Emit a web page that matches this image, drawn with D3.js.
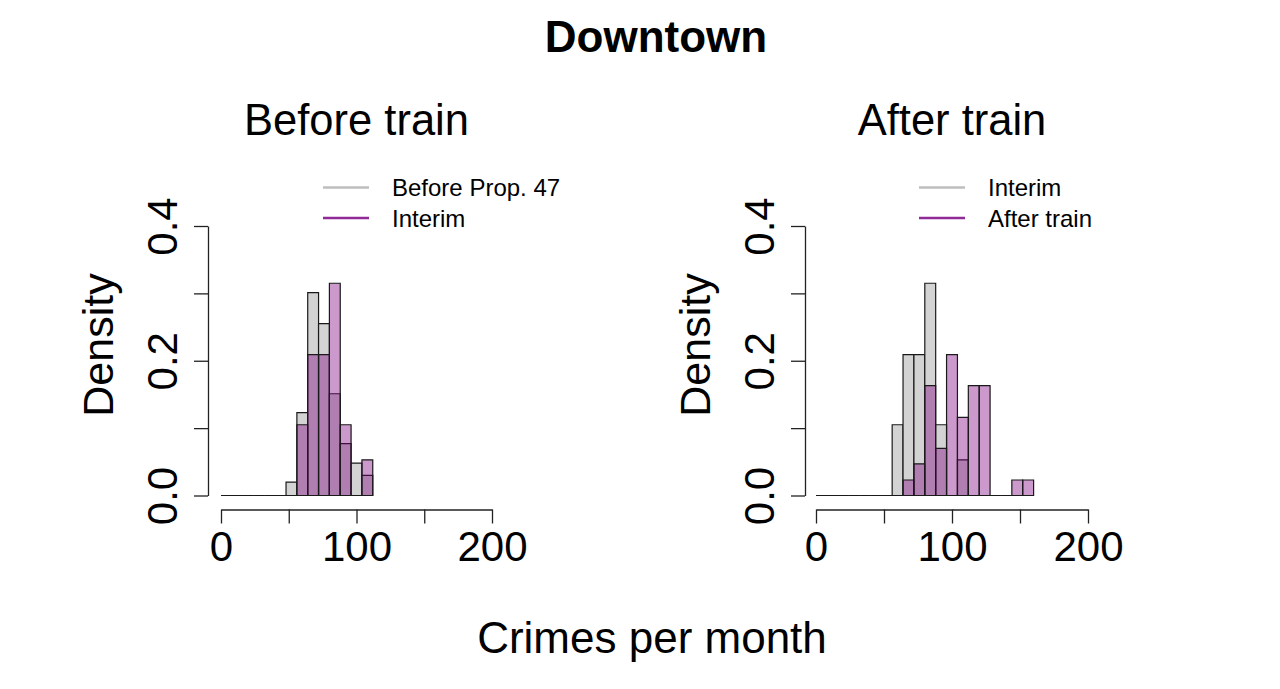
<!DOCTYPE html>
<html>
<head>
<meta charset="utf-8">
<script src="https://cdn.jsdelivr.net/npm/d3@7"></script>
<style>
  body { margin: 0; background: #fff; }
  text { font-family: "Liberation Sans", Arial, sans-serif; fill: #000; }
</style>
</head>
<body>
<script>
// Data (density per 8-unit bin, bins start at 0):
const binWidth = 8;
const beforeProp47 = [0, 0, 0, 0, 0, 0, 0.020, 0.123, 0.301, 0.255, 0.151, 0.077, 0.048, 0.030];
const interim = [0, 0, 0, 0, 0, 0, 0, 0.105, 0.209, 0.209, 0.315, 0.105, 0, 0.053];
const afterTrain = [0, 0, 0, 0, 0, 0, 0, 0, 0.023, 0.047, 0.163, 0.070, 0.209, 0.116, 0.163, 0.163, 0, 0, 0.023, 0.023];
const xTicks = [0, 50, 100, 150, 200];
const xTickLabels = [0, 100, 200];
const yTicks = [0, 0.1, 0.2, 0.3, 0.4];
const yTickLabels = [0, 0.2, 0.4];

const panels = [
  { title: "Before train", left: 221, right: 492, axisX: 208,
    series: [{ name: "Before Prop. 47", values: beforeProp47 }, { name: "Interim", values: interim }],
    legendX: 323 },
  { title: "After train", left: 816, right: 1088, axisX: 805,
    series: [{ name: "Interim", values: interim }, { name: "After train", values: afterTrain }],
    legendX: 919 }
];

const fills = ["#d3d3d3", "rgba(128,0,128,0.4)"];
const legendColors = ["#bebebe", "#902a96"];

const width = 1280;
const height = 689;

const svg = d3.select("body")
  .append("svg")
  .attr("width", width)
  .attr("height", height);

// Main title:
svg.append("text")
  .attr("x", 656)
  .attr("y", 52)
  .attr("text-anchor", "middle")
  .style("font-size", "44px")
  .style("font-weight", "bold")
  .text("Downtown");

// Shared x label:
svg.append("text")
  .attr("x", 652)
  .attr("y", 653)
  .attr("text-anchor", "middle")
  .style("font-size", "44px")
  .text("Crimes per month");

const yScale = d3.scaleLinear().domain([0, 0.4]).range([495.5, 226]);

panels.forEach((p) => {
  const xScale = d3.scaleLinear().domain([0, 200]).range([p.left, p.right]);
  const g = svg.append("g");

  // Panel title:
  g.append("text")
    .attr("x", (p.left + p.right) / 2)
    .attr("y", 135)
    .attr("text-anchor", "middle")
    .style("font-size", "43.5px")
    .text(p.title);

  // Bars (gray first, then translucent purple on top):
  p.series.forEach((s, si) => {
    g.append("g")
      .selectAll("path")
      .data(s.values)
      .enter()
      .append("path")
      .attr("d", (d, i) => {
        const x0 = xScale(i * binWidth);
        const x1 = xScale((i + 1) * binWidth);
        const y0 = yScale(0);
        const y1 = yScale(d);
        return `M${x0},${y0}V${y1}H${x1}V${y0}Z`;
      })
      .attr("fill", fills[si])
      .attr("stroke", "#1a1a1a")
      .attr("stroke-width", 1.2);
  });

  // x-axis:
  const xAxis = d3.axisBottom(xScale)
    .tickValues(xTicks)
    .tickSize(14)
    .tickSizeOuter(0)
    .tickFormat((d) => (xTickLabels.includes(d) ? d : ""));
  const xg = g.append("g")
    .attr("transform", `translate(0, 509.5)`)
    .call(xAxis);
  xg.select(".domain").attr("stroke", "#222").attr("stroke-width", 1.3);
  xg.selectAll(".tick line").attr("stroke", "#222").attr("stroke-width", 1.3);
  xg.selectAll(".tick text")
    .attr("y", 51.5)
    .attr("dy", null)
    .attr("fill", "#000")
    .style("font-size", "42px")
    .style("font-family", "Liberation Sans, Arial, sans-serif");

  // y-axis:
  const yAxis = d3.axisLeft(yScale)
    .tickValues(yTicks)
    .tickSize(14)
    .tickSizeOuter(0)
    .tickFormat((d) => (yTickLabels.includes(d) ? d3.format(".1f")(d) : ""));
  const yg = g.append("g")
    .attr("transform", `translate(${p.axisX}, 0)`)
    .call(yAxis);
  yg.select(".domain").attr("stroke", "#222").attr("stroke-width", 1.3);
  yg.selectAll(".tick line").attr("stroke", "#222").attr("stroke-width", 1.3);
  yg.selectAll(".tick text")
    .attr("transform", "rotate(-90)")
    .attr("x", 0)
    .attr("y", -31)
    .attr("dy", null)
    .attr("text-anchor", "middle")
    .attr("fill", "#000")
    .style("font-size", "42px")
    .style("font-family", "Liberation Sans, Arial, sans-serif");

  // y label:
  g.append("text")
    .attr("transform", `translate(${p.axisX - 95}, 345) rotate(-90)`)
    .attr("text-anchor", "middle")
    .style("font-size", "43px")
    .text("Density");

  // Legend:
  const lg = g.append("g");
  p.series.forEach((s, si) => {
    const ly = 187.5 + si * 30.5;
    lg.append("line")
      .attr("x1", p.legendX)
      .attr("x2", p.legendX + 46)
      .attr("y1", ly)
      .attr("y2", ly)
      .attr("stroke", legendColors[si])
      .attr("stroke-width", 2.6);
    lg.append("text")
      .attr("x", p.legendX + 69)
      .attr("y", ly + 8.5)
      .style("font-size", "24px")
      .text(s.name);
  });
});
</script>
</body>
</html>
